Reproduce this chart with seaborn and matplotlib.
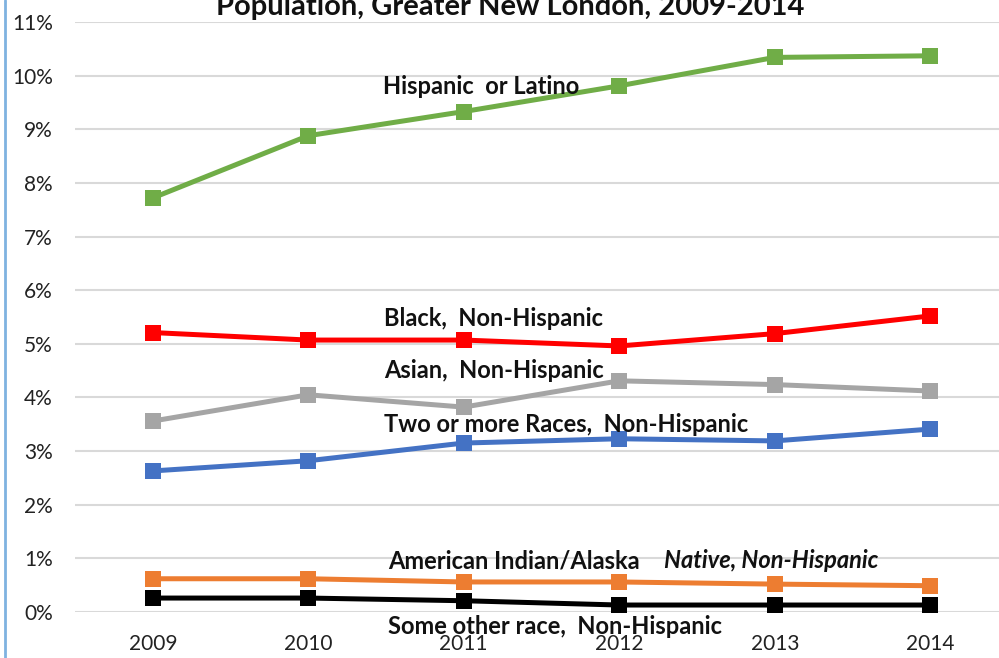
import pandas as pd
import matplotlib
matplotlib.use("Agg")
import matplotlib.pyplot as plt
from matplotlib.lines import Line2D
import seaborn as sns

years = [2009, 2010, 2011, 2012, 2013, 2014]
hispanic = [7.72, 8.88, 9.33, 9.81, 10.34, 10.37]
black = [5.21, 5.07, 5.07, 4.96, 5.19, 5.52]
asian = [3.56, 4.05, 3.82, 4.31, 4.24, 4.12]
two_more = [2.63, 2.82, 3.15, 3.23, 3.19, 3.41]
am_indian = [0.62, 0.62, 0.56, 0.56, 0.52, 0.49]
other = [0.26, 0.26, 0.21, 0.13, 0.13, 0.13]

series = {
    "Hispanic or Latino": hispanic,
    "Black, Non-Hispanic": black,
    "Asian, Non-Hispanic": asian,
    "Two or more Races, Non-Hispanic": two_more,
    "American Indian/Alaska Native, Non-Hispanic": am_indian,
    "Some other race, Non-Hispanic": other,
}
colors = ["#70AD47", "#FF0000", "#A5A5A5", "#4472C4", "#ED7D31", "#000000"]

rows = []
for name, vals in series.items():
    for i, v in enumerate(vals):
        rows.append({"group": name, "pos": i, "value": v})
df = pd.DataFrame(rows)

sns.set_style("white")
plt.rcParams["font.family"] = ["Lato", "DejaVu Sans"]

fig = plt.figure(figsize=(9.99, 6.58), dpi=100)
W, H = 999, 658
ax = fig.add_axes([75 / W, (H - 612) / H, (W - 75) / W, (612 - 22) / H])

sns.lineplot(data=df, x="pos", y="value", hue="group", palette=colors,
             marker="s", markersize=12, markeredgewidth=0, linewidth=3.6,
             legend=False, ax=ax, clip_on=False)

ax.set_xlim(-0.5, 5.5 - 9 / 155.5)
ax.set_ylim(0, 11)
ax.set_yticks(range(0, 12))
ax.set_yticklabels([f"{i}%" for i in range(0, 12)])
ax.set_xticks(range(len(years)))
ax.set_xticklabels([str(y) for y in years])
ax.tick_params(axis="both", length=0, labelsize=15, colors="#222222")
ax.tick_params(axis="y", pad=16)
ax.tick_params(axis="x", pad=16)
ax.set_xlabel("")
ax.set_ylabel("")
ax.grid(axis="y", color="#d9d9d9", linewidth=1.5)
ax.set_axisbelow(True)
for s in ax.spines.values():
    s.set_visible(False)

def px(x, y):
    return x / W, 1 - y / H

# series labels sit next to the lines, as in the original
labels = [
    ("Hispanic  or Latino", 383, 87, "normal"),
    ("Black,  Non-Hispanic", 384, 319, "normal"),
    ("Asian,  Non-Hispanic", 384, 371, "normal"),
    ("Two or more Races,  Non-Hispanic", 384, 424, "normal"),
    ("American Indian/Alaska", 388, 561, "normal"),
    ("Native, Non-Hispanic", 664, 561, "italic"),
    ("Some other race,  Non-Hispanic", 388, 627, "normal"),
]
for txt, x, y, st in labels:
    fx, fy = px(x, y)
    fig.text(fx, fy, txt, ha="left", va="center", fontsize=17,
             fontweight="bold", style=st, color="#111111")

tx, ty = px(510, 15)
fig.text(tx, ty, "Population, Greater New London, 2009-2014", ha="center",
         va="baseline", fontsize=21, fontweight="bold", color="#111111")

fig.add_artist(Line2D([5 / W, 5 / W], [0, 1], color="#7fb2e0", linewidth=2))

fig.savefig("out.png", dpi=100)
